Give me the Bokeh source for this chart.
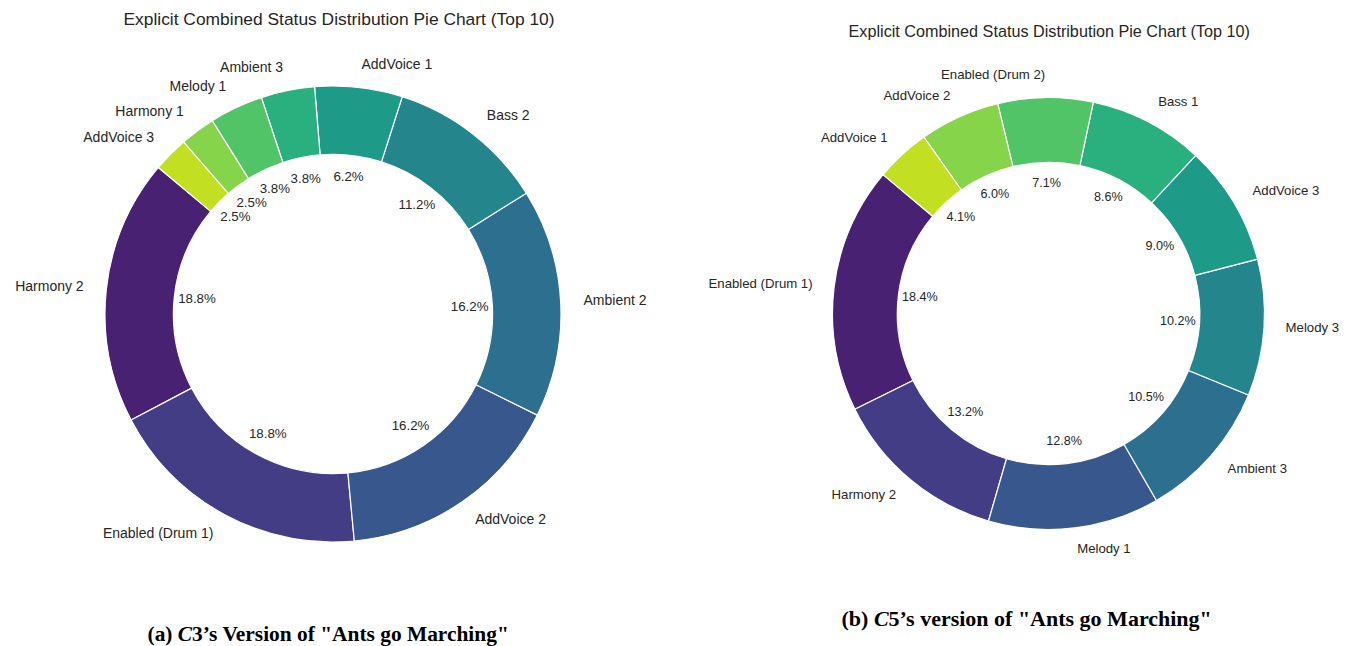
import math
from bokeh.plotting import figure
from bokeh.models import Range1d, ColumnDataSource
from bokeh.palettes import Viridis256
from bokeh.core.properties import value
from bokeh.embed import file_html
from bokeh.resources import INLINE

# ---------------- data ----------------
title_text = "Explicit Combined Status Distribution Pie Chart (Top 10)"

left_labels = ["Harmony 2", "Enabled (Drum 1)", "AddVoice 2", "Ambient 2", "Bass 2",
               "AddVoice 1", "Ambient 3", "Melody 1", "Harmony 1", "AddVoice 3"]
left_values = [18.8, 18.8, 16.2, 16.2, 11.2, 6.2, 3.8, 3.8, 2.5, 2.5]

right_labels = ["Enabled (Drum 1)", "Harmony 2", "Melody 1", "Ambient 3", "Melody 3",
                "AddVoice 3", "Bass 1", "Enabled (Drum 2)", "AddVoice 2", "AddVoice 1"]
right_values = [18.4, 13.2, 12.8, 10.5, 10.2, 9.0, 8.6, 7.1, 6.0, 4.1]

left_caption = ["(a) ", "C", "3\u2019s Version of \"Ants go Marching\""]
right_caption = ["(b) ", "C", "5\u2019s version of \"Ants go Marching\""]

# ---------------- figure ----------------
W, H = 1354, 646


def fx(x):
    return x


def fy(y):
    return H - y


p = figure(width=W, height=H, x_range=Range1d(0, W), y_range=Range1d(0, H),
           output_backend="svg", toolbar_location=None,
           x_axis_location=None, y_axis_location=None, min_border=0)
p.grid.visible = False
p.outline_line_color = None
p.background_fill_color = "white"
p.border_fill_color = "white"

TXT = "#262626"
SANS = "Liberation Sans"
SERIF = "Liberation Serif"
TEXT_DY = 1.2  # small upward nudge for labels


def donut(cx, cy, r, labels, values, lab_fs, pct_fs):
    total = float(sum(values))
    n = len(values)
    colors = [Viridis256[min(255, int((i + 1) / (n + 1) * 256))] for i in range(n)]
    a = math.radians(140)
    starts, ends, mids = [], [], []
    for v in values:
        da = 2 * math.pi * v / total
        starts.append(a)
        ends.append(a + da)
        mids.append(a + da / 2)
        a += da
    src = ColumnDataSource(dict(x=[fx(cx)] * n, y=[fy(cy)] * n, s=starts, e=ends, c=colors))
    p.annular_wedge(x="x", y="y", inner_radius=0.7 * r, outer_radius=r,
                    start_angle="s", end_angle="e", fill_color="c",
                    line_color="white", line_width=1.2, source=src)
    lx, ly, al = [], [], []
    px, py, pt = [], [], []
    for m, v in zip(mids, values):
        c, s = math.cos(m), math.sin(m)
        lx.append(fx(cx) + 1.1 * r * c)
        ly.append(fy(cy) + 1.1 * r * s + TEXT_DY)
        al.append("left" if c > 0 else "right")
        px.append(fx(cx) + 0.6 * r * c)
        py.append(fy(cy) + 0.6 * r * s + TEXT_DY)
        pt.append("%.1f%%" % (100 * v / total))
    ls = ColumnDataSource(dict(x=lx, y=ly, t=labels, a=al))
    p.text(x="x", y="y", text="t", text_align="a", text_baseline="middle",
           text_font=value(SANS), text_font_size=value("%.1fpx" % lab_fs),
           text_color=TXT, source=ls)
    ps = ColumnDataSource(dict(x=px, y=py, t=pt))
    p.text(x="x", y="y", text="t", text_align="center", text_baseline="middle",
           text_font=value(SANS), text_font_size=value("%.1fpx" % pct_fs),
           text_color=TXT, source=ps)


donut(332.5, 313.5, 228, left_labels, left_values, 14.0, 13.3)
donut(1048, 313, 216, right_labels, right_values, 13.2, 12.6)

# titles
p.text(x=[fx(338.5)], y=[fy(18.0)], text=[title_text], text_align="center",
       text_baseline="alphabetic", text_font=value(SANS),
       text_font_size=value("17.4px"), text_color=TXT)
p.text(x=[fx(1048.7)], y=[fy(30.8)], text=[title_text], text_align="center",
       text_baseline="alphabetic", text_font=value(SANS),
       text_font_size=value("16.2px"), text_color=TXT)


def caption(x_left, base_y, parts, fs):
    w_prefix = {"(a) ": 1.416, "(b) ": 1.472}[parts[0]] * fs
    x0 = fx(x_left) + w_prefix
    y0 = fy(base_y)
    common = dict(text_baseline="alphabetic", text_font=value(SERIF),
                  text_font_size=value("%.1fpx" % fs), text_color="black")
    p.text(x=[x0], y=[y0], text=[parts[0]], text_align="right",
           text_font_style="bold", **common)
    p.text(x=[x0], y=[y0], text=[parts[1]], text_align="left",
           text_font_style="bold italic", **common)
    p.text(x=[x0 + 0.667 * fs], y=[y0], text=[parts[2]], text_align="left",
           text_font_style="bold", **common)


caption(147, 633.5, left_caption, 21.4)
caption(841, 618.0, right_caption, 22.0)

open("out.html", "w").write(file_html(p, INLINE))
